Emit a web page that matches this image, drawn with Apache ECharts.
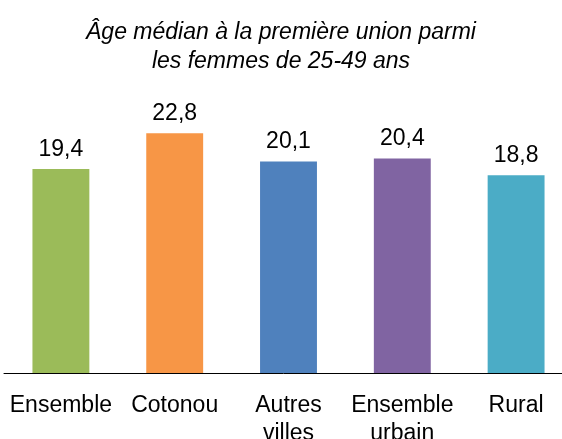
<!DOCTYPE html>
<html>
<head>
<meta charset="utf-8">
<script src="https://cdn.jsdelivr.net/npm/echarts@6/dist/echarts.min.js"></script>
<style>
  html, body { margin: 0; padding: 0; background: #fff; }
  #main { width: 562px; height: 439px; }
</style>
</head>
<body>
<div id="main"></div>
<script>
var categories = ['Ensemble', 'Cotonou', 'Autres\nvilles', 'Ensemble\nurbain', 'Rural'];
var values = [19.4, 22.8, 20.1, 20.4, 18.8];
var colors = ['#9BBB59', '#F79646', '#4F81BD', '#8064A2', '#4BACC6'];

var chart = echarts.init(document.getElementById('main'));
var option = {
    animation: false,
    title: {
        text: 'Âge médian à la première union parmi\nles femmes de 25-49 ans',
        left: 'center',
        top: 13,
        textStyle: {
            fontFamily: 'Liberation Sans',
            fontStyle: 'italic',
            fontWeight: 'normal',
            fontSize: 23,
            lineHeight: 29,
            color: '#000'
        }
    },
    grid: { left: 4, top: 110, width: 569, height: 263, outerBoundsMode: 'none', containLabel: false },
    xAxis: {
        type: 'category',
        data: categories,
        axisLine: { lineStyle: { color: '#000', width: 1 } },
        axisTick: { show: false },
        axisLabel: {
            interval: 0,
            margin: 19,
            fontFamily: 'Liberation Sans',
            fontSize: 23,
            lineHeight: 28,
            color: '#000'
        }
    },
    yAxis: {
        type: 'value',
        min: 0,
        max: 25,
        show: false,
        splitLine: { show: false }
    },
    series: [{
        type: 'bar',
        barWidth: '50%',
        data: values.map(function (v, i) {
            return { value: v, itemStyle: { color: colors[i] } };
        }),
        label: {
            show: true,
            position: 'top',
            distance: 8,
            fontFamily: 'Liberation Sans',
            fontSize: 23,
            color: '#000',
            formatter: function (p) {
                return String(p.value).replace('.', ',');
            }
        }
    }]
};
chart.setOption(option);
</script>
</body>
</html>
